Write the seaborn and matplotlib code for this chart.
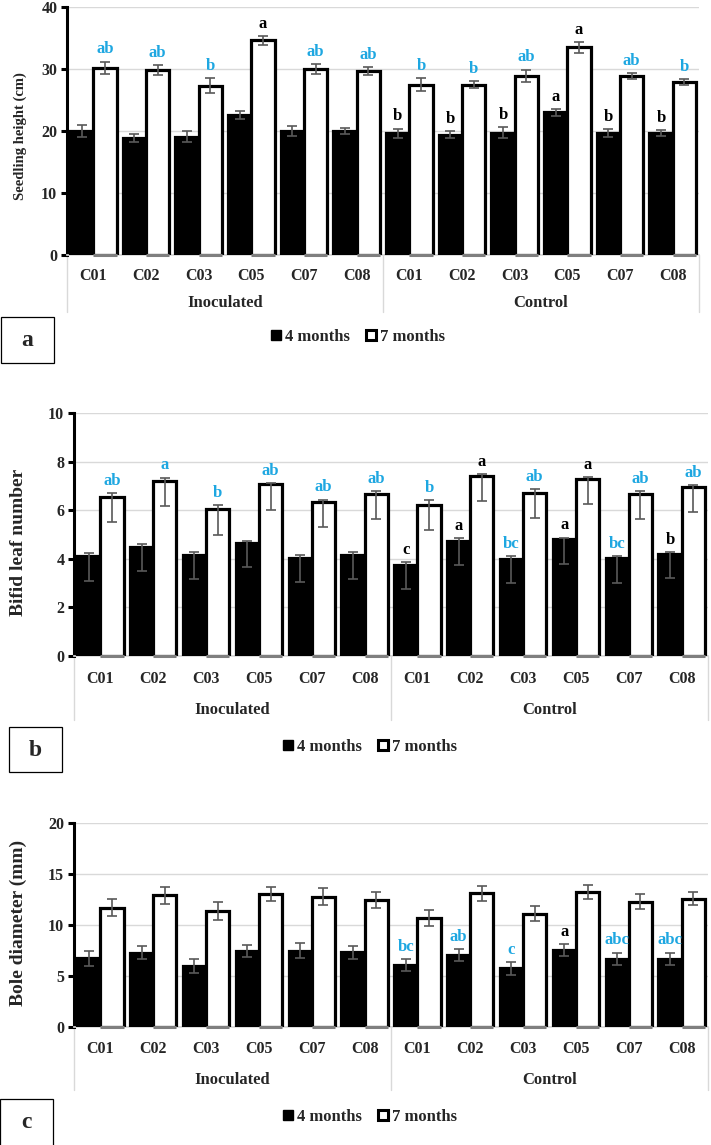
import numpy as np
import matplotlib
matplotlib.use("Agg")
import matplotlib.pyplot as plt
from matplotlib.patches import Rectangle, Patch
import seaborn as sns
import pandas as pd

strains = ["C01", "C02", "C03", "C05", "C07", "C08"]
groups = ["Inoculated", "Control"]
ages = ["4 months", "7 months"]

# panel a - seedling height (cm)
height_4m = [20.0, 18.9, 19.1, 22.6, 20.0, 20.0, 19.6, 19.4, 19.7, 23.0, 19.7, 19.7]
height_7m = [30.2, 29.8, 27.3, 34.6, 30.0, 29.7, 27.5, 27.5, 28.9, 33.5, 28.9, 27.9]
height_err_4m = [1.0, 0.6, 0.9, 0.6, 0.8, 0.5, 0.8, 0.6, 0.9, 0.6, 0.6, 0.5]
height_err_7m = [1.0, 0.8, 1.2, 0.7, 0.8, 0.6, 1.0, 0.6, 1.0, 0.9, 0.5, 0.5]
height_lab_4m = ["", "", "", "", "", "", "b", "b", "b", "a", "b", "b"]
height_col_4m = ["k"] * 12
height_lab_7m = ["ab", "ab", "b", "a", "ab", "ab", "b", "b", "ab", "a", "ab", "b"]
height_col_7m = ["c", "c", "c", "k", "c", "c", "c", "c", "c", "k", "c", "c"]

# panel b - bifid leaf number
leaf_4m = [4.1, 4.5, 4.15, 4.65, 4.05, 4.15, 3.75, 4.75, 4.0, 4.8, 4.02, 4.2]
leaf_7m = [6.56, 7.22, 6.03, 7.06, 6.33, 6.65, 6.23, 7.4, 6.7, 7.27, 6.68, 6.96]
leaf_up_4m = [0.14, 0.12, 0.15, 0.08, 0.12, 0.11, 0.12, 0.11, 0.11, 0.07, 0.1, 0.08]
leaf_dn_4m = [1.0, 1.0, 1.0, 1.0, 1.0, 0.98, 1.0, 0.99, 1.0, 1.0, 1.0, 1.0]
leaf_up_7m = [0.16, 0.12, 0.19, 0.06, 0.11, 0.14, 0.2, 0.1, 0.16, 0.08, 0.11, 0.07]
leaf_dn_7m = [1.03, 1.04, 1.05, 1.05, 1.03, 1.03, 1.03, 1.03, 1.03, 1.03, 1.03, 1.03]
leaf_lab_4m = ["", "", "", "", "", "", "c", "a", "bc", "a", "bc", "b"]
leaf_col_4m = ["k", "k", "k", "k", "k", "k", "k", "k", "c", "k", "c", "k"]
leaf_lab_7m = ["ab", "a", "b", "ab", "ab", "ab", "b", "a", "ab", "a", "ab", "ab"]
leaf_col_7m = ["c", "c", "c", "c", "c", "c", "c", "k", "c", "k", "c", "c"]

# panel c - bole diameter (mm)
bole_4m = [6.73, 7.29, 6.01, 7.42, 7.48, 7.32, 6.08, 7.06, 5.75, 7.55, 6.7, 6.7]
bole_7m = [11.7, 12.9, 11.37, 13.04, 12.78, 12.45, 10.69, 13.1, 11.1, 13.24, 12.29, 12.58]
bole_err_4m = [0.72, 0.64, 0.67, 0.6, 0.72, 0.67, 0.6, 0.59, 0.64, 0.57, 0.59, 0.59]
bole_err_7m = [0.83, 0.8, 0.88, 0.7, 0.83, 0.75, 0.74, 0.74, 0.75, 0.69, 0.74, 0.62]
bole_lab_4m = ["", "", "", "", "", "", "bc", "ab", "c", "a", "abc", "abc"]
bole_col_4m = ["k", "k", "k", "k", "k", "k", "c", "c", "c", "k", "c", "c"]
bole_lab_7m = [""] * 12
bole_col_7m = ["k"] * 12

CYAN = "#1EA7E1"
FW, FH = 711, 1145
SERIF = ["Liberation Serif", "DejaVu Serif"]

sns.set_theme(style="white")
plt.rcParams["font.family"] = SERIF
plt.rcParams["font.weight"] = "bold"

fig = plt.figure(figsize=(FW / 100, FH / 100), dpi=100)


def px_axes(left, right, top, bottom):
    return fig.add_axes([left / FW, 1 - bottom / FH, (right - left) / FW, (bottom - top) / FH])


def draw_panel(ax, v4, v7, e4, e7, lab4, col4, lab7, col7, ymax, ystep, ylabel, ylsize, ylcenter,
               ax_px, tick_below, group_below, sep_below, legend_y, legend_x, box, letter):
    left, right, top, bottom = ax_px
    pos = [g + " " + s for g in groups for s in strains]
    df = pd.DataFrame({
        "pos": pos * 2,
        "age": [ages[0]] * 12 + [ages[1]] * 12,
        "value": list(v4) + list(v7),
    })
    sns.barplot(data=df, x="pos", y="value", hue="age", order=pos, hue_order=ages,
                palette={ages[0]: "black", ages[1]: "white"}, saturation=1,
                edgecolor="black", linewidth=2.3, width=0.88, gap=0,
                errorbar=None, legend=False, ax=ax, zorder=3)

    ax.set_ylim(0, ymax)
    ax.set_xlim(-0.5, 11.5)
    ax.set_yticks(np.arange(0, ymax + 0.01, ystep))
    ax.yaxis.grid(True, color="#D9D9D9", linewidth=1)
    ax.set_axisbelow(True)
    for s in ["top", "right"]:
        ax.spines[s].set_visible(False)
    ax.spines["left"].set_color("black")
    ax.spines["left"].set_linewidth(2.2)
    ax.spines["bottom"].set_color("#D9D9D9")
    ax.tick_params(axis="y", length=4, width=2.2, color="black", labelsize=11.5, pad=3, left=True)
    ax.tick_params(axis="x", length=0, labelsize=11.5, pad=tick_below)
    ax.set_xticks(range(12))
    ax.set_xticklabels(strains * 2, fontweight="bold")
    for t in ax.get_yticklabels():
        t.set_fontweight("bold")
    ax.set_xlabel("")
    ax.set_ylabel(ylabel, fontsize=ylsize, fontweight="bold")
    hpx = bottom - top
    ax.yaxis.set_label_coords((27 - left) / (right - left), (bottom - ylcenter) / hpx)

    # error bars and significance letters
    for cont, err, labs, cols in zip(ax.containers[:2], [e4, e7], [lab4, lab7], [col4, col7]):
        xs = [b.get_x() + b.get_width() / 2 for b in cont]
        ys = [b.get_height() for b in cont]
        if isinstance(err, tuple):
            dn, up = err
        else:
            dn, up = err, err
        ax.errorbar(xs, ys, yerr=[dn, up], fmt="none", ecolor="#595959",
                    elinewidth=1.2, capsize=3.5, capthick=1.2, zorder=5)
        for x, y, u, lab, c in zip(xs, ys, up, labs, cols):
            if lab:
                ax.annotate(lab, (x, y + u), xytext=(0, 3), textcoords="offset points",
                            ha="center", va="bottom", fontsize=12, fontweight="bold",
                            color=CYAN if c == "c" else "black", zorder=6)
    # grey base under the open bars
    for b in ax.containers[1]:
        ax.plot([b.get_x(), b.get_x() + b.get_width()], [0, 0], color="#7F7F7F",
                linewidth=2.2, zorder=4, clip_on=False, solid_capstyle="butt")

    # group separators and labels
    for xs in [-0.5, 5.5, 11.5]:
        ax.plot([xs, xs], [0, -sep_below / hpx], color="#D9D9D9", linewidth=1,
                transform=ax.get_xaxis_transform(), clip_on=False)
    for i, g in enumerate(groups):
        ax.text(2.5 + 6 * i, -group_below / hpx, g, transform=ax.get_xaxis_transform(),
                ha="center", va="center", fontsize=12, fontweight="bold")

    # legend
    handles = [Patch(facecolor="black", edgecolor="black", linewidth=1),
               Patch(facecolor="white", edgecolor="black", linewidth=2.2)]
    fig.legend(handles, ages, loc="center", bbox_to_anchor=(legend_x / FW, 1 - legend_y / FH),
               ncol=2, frameon=False, prop={"family": SERIF, "weight": "bold", "size": 12},
               handlelength=0.6, handleheight=0.6, handletextpad=0.2, columnspacing=1.0)

    # panel letter box
    bx0, bx1, by0, by1 = box
    fig.patches.append(Rectangle((bx0 / FW, 1 - by1 / FH), (bx1 - bx0) / FW, (by1 - by0) / FH,
                                 transform=fig.transFigure, facecolor="white",
                                 edgecolor="black", linewidth=0.9))
    fig.text((bx0 + bx1) / 2 / FW, 1 - (by0 + 23) / FH, letter, ha="center", va="center",
             fontsize=17, fontweight="bold")


ax_a = px_axes(67, 699, 7, 255)
draw_panel(ax_a, height_4m, height_7m, height_err_4m, height_err_7m,
           height_lab_4m, height_col_4m, height_lab_7m, height_col_7m,
           40, 10, "Seedling height (cm)", 10.5, 136, (67, 699, 7, 255),
           tick_below=9, group_below=48, sep_below=57, legend_y=337, legend_x=358,
           box=(1, 54, 317, 363), letter="a")

ax_b = px_axes(74, 708, 413, 656)
draw_panel(ax_b, leaf_4m, leaf_7m, (leaf_dn_4m, leaf_up_4m), (leaf_dn_7m, leaf_up_7m),
           leaf_lab_4m, leaf_col_4m, leaf_lab_7m, leaf_col_7m,
           10, 2, "Bifid leaf number", 14, 542, (74, 708, 413, 656),
           tick_below=11, group_below=54, sep_below=64, legend_y=747, legend_x=370,
           box=(9, 62, 727, 772), letter="b")

ax_c = px_axes(74, 708, 823, 1027)
draw_panel(ax_c, bole_4m, bole_7m, bole_err_4m, bole_err_7m,
           bole_lab_4m, bole_col_4m, bole_lab_7m, bole_col_7m,
           20, 5, "Bole diameter (mm)", 14, 923, (74, 708, 823, 1027),
           tick_below=10, group_below=53, sep_below=63, legend_y=1117, legend_x=370,
           box=(0, 53, 1099, 1150), letter="c")

fig.savefig("out.png", dpi=100)
